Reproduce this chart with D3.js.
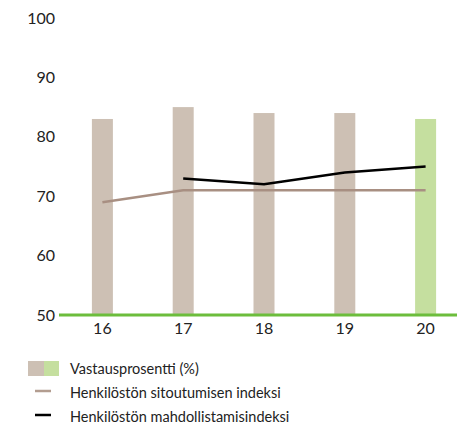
<!DOCTYPE html>
<html>
<head>
<meta charset="utf-8">
<script src="https://cdn.jsdelivr.net/npm/d3@7"></script>
<style>
	body{margin:0;background:#fff;}
	svg text{font-family:'Lato','Noto Sans',sans-serif;fill:#222;}
</style>
</head>
<body>
<svg class="chart" width="467" height="426"></svg>
<script>
var years = ['16','17','18','19','20'];
var responseRate = [83,85,84,84,83];
var commitmentIndex = [69,71,71,71,71];
var enablementIndex = [null,73,72,74,75];
var yTicks = [50,60,70,80,90,100];
var legendLabels = ['Vastausprosentti (%)','Henkilöstön sitoutumisen indeksi','Henkilöstön mahdollistamisindeksi'];

var config = {
	left:62,
	right:466,
	top:18,
	bottom:315,
	barWidth:21,
	barColor:'#cdc0b4',
	lastBarColor:'#c5df9f',
	axisColor:'#6cbd3c',
	brown:'#a88f82',
	black:'#000'
};

var svg = d3.select('.chart');

var xScale = d3.scaleBand()
	.domain(years)
	.range([config.left,config.right]);

var yScale = d3.scaleLinear()
	.domain([50,100])
	.range([config.bottom,config.top]);

var cx = (d) => xScale(d)+xScale.bandwidth()/2;

// bars
svg.selectAll('.bar')
	.data(years)
	.enter()
	.append('rect')
	.attr('class','bar')
	.attr('x',(d) => cx(d)-config.barWidth/2)
	.attr('width',config.barWidth)
	.attr('y',(d,i) => yScale(responseRate[i]))
	.attr('height',(d,i) => yScale(50)-yScale(responseRate[i]))
	.attr('fill',(d,i) => i==years.length-1 ? config.lastBarColor : config.barColor);

// lines
var lineGen = d3.line()
	.defined((d) => d.v!=null)
	.x((d) => cx(d.x))
	.y((d) => yScale(d.v));

svg.append('path')
	.datum(years.map((d,i) => ({x:d,v:commitmentIndex[i]})))
	.attr('d',lineGen)
	.attr('fill','none')
	.attr('stroke',config.brown)
	.attr('stroke-width',2.5);

svg.append('path')
	.datum(years.map((d,i) => ({x:d,v:enablementIndex[i]})))
	.attr('d',lineGen)
	.attr('fill','none')
	.attr('stroke',config.black)
	.attr('stroke-width',2.5);

// y axis labels
var yAxis = d3.axisLeft(yScale).tickValues(yTicks).tickSize(0).tickPadding(0);
var yg = svg.append('g')
	.attr('transform','translate(55,0)')
	.call(yAxis);
yg.select('.domain').remove();
yg.selectAll('text').attr('font-size',16).attr('fill','#222');

// x axis
var xAxis = d3.axisBottom(xScale).tickSize(0).tickPadding(8);
var xg = svg.append('g')
	.attr('transform','translate(0,'+config.bottom+')')
	.call(xAxis);
xg.select('.domain').remove();
xg.selectAll('text').attr('font-size',16).attr('fill','#222');

svg.append('line')
	.attr('x1',59)
	.attr('x2',457)
	.attr('y1',config.bottom)
	.attr('y2',config.bottom)
	.attr('stroke',config.axisColor)
	.attr('stroke-width',3);

// legend
var legend = svg.append('g').attr('transform','translate(0,361)');
legend.append('rect').attr('x',28).attr('y',0).attr('width',16).attr('height',15).attr('fill',config.barColor);
legend.append('rect').attr('x',44).attr('y',0).attr('width',15).attr('height',15).attr('fill',config.lastBarColor);
legend.append('line').attr('x1',35).attr('x2',51).attr('y1',30).attr('y2',30).attr('stroke','#b39d90').attr('stroke-width',2.5);
legend.append('line').attr('x1',35).attr('x2',51).attr('y1',54).attr('y2',54).attr('stroke','#000').attr('stroke-width',2.5);

legend.selectAll('.legend-text')
	.data(legendLabels)
	.enter()
	.append('text')
	.attr('class','legend-text')
	.text((d) => d)
	.attr('x',70)
	.attr('y',(d,i) => 13+i*24)
	.attr('font-size',14.5);
</script>
</body>
</html>
